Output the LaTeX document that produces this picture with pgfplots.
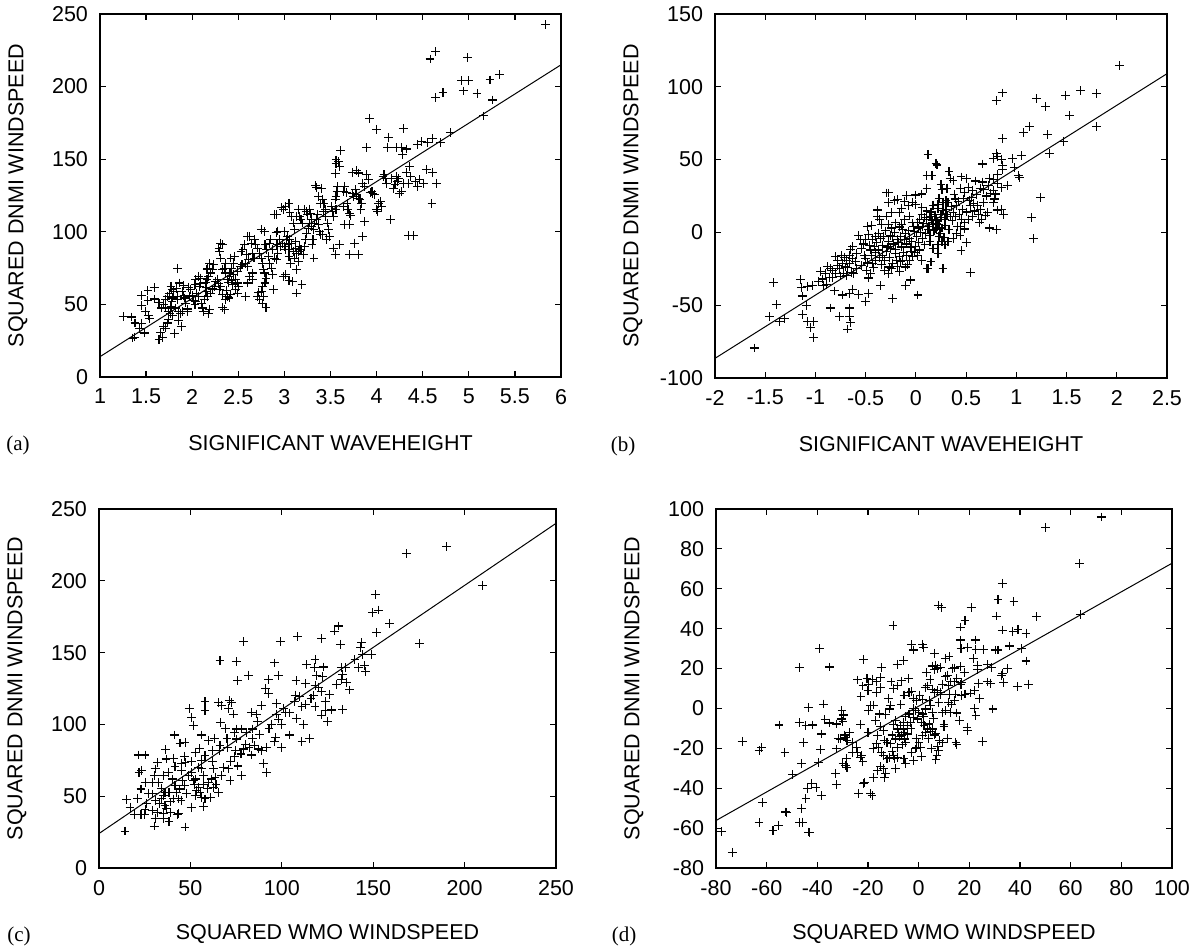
\documentclass[border=0pt]{standalone}
\usepackage{fontspec}
\setmainfont{Liberation Sans}
\newfontfamily\seriffont{Liberation Serif}
\usepackage{pgfplots}
\pgfplotsset{compat=1.18}

\pgfplotsset{
  panel/.style={
    scale only axis,
    anchor=south west,
    axis line style={line width=0.8bp},
    tick style={line width=0.6bp, black},
    tick align=inside,
    major tick length=2.8bp,
    /pgf/number format/assume math mode=true,
    ticklabel style={font=\fontsize{10.75bp}{12bp}\selectfont},
    xticklabel style={yshift=-2.5bp},
    yticklabel style={xshift=-2.5bp},
    clip=true,
  },
  dots/.style={only marks, mark=+, mark size=2.2bp, mark options={line width=0.55bp, black}, black},
  fit/.style={black, line width=0.5bp, no marks},
}
\newcommand{\lab}{\fontsize{10.75bp}{12bp}\selectfont}
\newcommand{\tag}{\seriffont\fontsize{10.5bp}{12bp}\selectfont}

\begin{document}
\begin{tikzpicture}
\useasboundingbox (0,0) rectangle (599bp,473.5bp);

% ---------------- (a)
\begin{axis}[panel, name=A, at={(50bp,285bp)}, width=230.5bp, height=181.5bp,
  xmin=1, xmax=6, ymin=0, ymax=250,
  xtick={1,1.5,...,6}, ytick={0,50,...,250}]
\addplot[dots] coordinates {
(1.25,41.7)(1.34,41.3)(1.38,37.2)(1.45,36.7)(1.37,27.5)(1.35,26.8)(1.48,30.3)(1.43,33.3)(1.45,56)(1.52,59.4)(1.59,61.7)(1.45,49)(1.49,45.2)(1.53,42.2)(1.54,40)(1.52,52.5)(1.59,53.7)(1.64,51)(1.64,26)(1.66,30.7)(1.68,27.3)(1.69,34.9)(1.71,33.7)(1.74,39.4)(1.76,43.6)(1.77,48.6)(1.78,52)(1.82,47.5)(1.84,53.2)(1.85,39)(1.88,34.9)(1.81,29.8)(1.79,42.2)(1.73,37.2)(1.74,45.2)(1.71,47.5)(1.69,49.8)(1.67,47.5)(1.71,53.2)(1.73,55.5)(1.75,57.8)(1.78,60.1)(1.8,58.9)(1.83,61.2)(1.84,74.8)(1.86,64.7)(1.89,58.9)(1.91,56)(1.92,54.4)(1.93,50.9)(1.95,46.8)(1.96,61.9)(1.98,60.1)(1.91,62.8)(1.84,55.5)(1.85,45.2)(1.77,62.4)(1.79,54.4)(1.87,44)(1.89,45.2)(1.95,45.2)(1.97,55.5)
(2.0,56)(2.01,52.8)(2.03,49.8)(2.04,52.1)(2.05,57.8)(2.07,55.5)(2.08,62.4)(2.1,50.9)(2.11,47.5)(2.12,45.2)(2.13,53.2)(2.15,58.9)(2.15,61.9)(2.14,65.1)(2.16,67.4)(2.18,69.3)(2.2,71.6)(2.22,73.9)(2.23,77.3)(2.19,78.4)(2.17,75)(2.16,73.9)(2.09,64.2)(2.07,69.3)(2.04,67)(2.03,63.5)(2.09,68.1)(2.17,55.5)(2.18,44)(2.19,46.3)(2.2,57.8)(2.22,60.6)(2.24,62.4)(2.25,65.8)(2.27,67.4)(2.29,64.2)(2.31,62.4)(2.3,60.1)(2.33,56.7)(2.33,47.9)(2.35,46.3)(2.36,53.2)(2.38,55.5)(2.4,54.4)(2.42,57.1)(2.37,59.4)(2.39,65.1)(2.4,69.3)(2.41,71.6)(2.43,75)(2.45,78.4)(2.46,83)(2.42,81.9)(2.36,78.4)(2.35,75)(2.33,73.9)(2.31,81.9)(2.29,88.8)(2.31,92.2)(2.33,91.1)(2.3,86.5)(2.36,71.6)(2.38,67.4)(2.47,67)(2.49,64.7)(2.5,62.4)(2.49,57.8)(2.47,60.1)(2.44,63.5)(2.43,66.5)(2.45,70.4)(2.49,72.7)(2.52,76.1)(2.54,77.3)(2.53,86.5)(2.55,87.6)(2.58,78.4)(2.6,76.1)(2.61,80.7)(2.59,84.2)(2.57,91.1)(2.6,96.8)(2.62,96.8)(2.64,92.2)(2.65,85.3)(2.67,81.9)(2.65,71.6)(2.65,67)(2.62,69.3)(2.6,64.7)(2.58,55.5)(2.68,94.5)(2.69,91.1)(2.71,88.8)(2.73,85.3)(2.75,81.9)(2.76,78.4)(2.77,73.9)(2.78,71.6)(2.8,68.1)(2.79,64.7)(2.76,62.4)(2.75,58.9)(2.72,58.3)(2.71,55.5)(2.73,53.2)(2.76,50.9)(2.77,55.5)(2.8,47.9)(2.75,101.4)(2.78,100)(2.79,91.1)(2.81,87.6)(2.83,83)(2.84,78.4)(2.86,75)(2.87,70.4)(2.88,60.1)(2.84,92.2)(2.85,94.5)(2.87,87.6)(2.89,81.9)(2.91,80.7)(2.93,85.3)(2.92,91.1)(2.91,99.5)(2.93,100.5)(2.95,94.5)(2.96,89.9)(2.98,92.2)(3.0,89.9)(3.01,87.6)(3.02,94.5)(3.03,96.8)(3.04,91.1)(3.05,87.6)(3.05,83)(3.07,78.4)(2.99,69.3)(3.01,70.4)(3.05,66.5)(3.09,65.8)(3.13,57.8)(3.13,73.9)(3.15,79.6)(3.11,81.9)(3.1,86.5)(3.12,88.8)(3.08,92.2)(3.06,94.5)(3.0,100.2)(2.91,111.7)(2.89,111.7)(2.97,116.5)(2.99,115.1)(3.01,117.4)(3.05,119.7)(3.06,113.3)(3.08,110.6)(3.1,106)(3.11,101.4)(3.12,93.3)(3.13,85.3)(3.15,86.5)(3.16,89.9)(3.18,87.6)(3.19,63.5)(3.21,84.2)(3.22,89.9)(3.23,94.5)(3.24,99.1)(3.26,102.5)(3.27,106)(3.29,108.3)(3.3,91.1)(3.31,94.5)(3.32,81.9)(3.2,106)(3.18,108.3)(3.16,110.6)(3.15,115.1)(3.13,110.6)(3.22,115.1)(3.24,114)(3.25,111.7)(3.27,115.6)(3.28,112.8)(3.29,103.7)(3.32,101.4)(3.33,106)(3.35,108.3)(3.36,111.7)(3.37,104.8)(3.38,100.2)(3.39,97.9)(3.41,97.9)(3.42,114)(3.41,122)(3.4,130)(3.34,131.7)(3.35,130.5)(3.37,124.3)(3.39,119.7)(3.43,119.7)(3.45,115.1)(3.45,110.6)(3.47,106)(3.48,101.4)(3.49,96.8)(3.46,94.5)(3.51,117.4)(3.52,114)(3.53,110.6)(3.56,115.1)(3.55,122)(3.56,124.3)(3.57,127.8)(3.58,131.2)(3.55,140.4)(3.56,147.2)(3.59,148.4)(3.6,145)(3.61,156.2)(3.64,117.4)(3.64,127.8)(3.65,131.2)(3.67,127)(3.68,119.7)(3.69,115.1)(3.71,112.8)(3.72,111)(3.74,126.6)(3.75,124.3)(3.77,128.9)(3.78,125.5)(3.8,123.2)(3.82,122)(3.83,115.6)(3.84,119.7)(3.85,133.5)(3.87,131.2)(3.89,139.2)(3.91,135.8)(3.93,127)(3.95,127.8)(3.96,126.6)(3.98,125.5)(4.0,115.1)(4.01,114)(4.02,119.7)(4.04,120.9)(4.05,117.4)(4.07,138.1)(4.08,139.2)(4.1,136.9)(4.11,133.5)(4.15,108.3)(4.16,136.9)(4.18,130)(4.2,132.3)(4.22,138.1)(4.23,134.6)(4.24,136.9)(4.25,126.6)(4.27,127.8)(4.29,133.5)(4.32,140.8)(4.35,133.5)(4.36,145)(4.37,138.1)(4.42,134.6)(4.44,131.2)(4.47,135.8)(4.51,133.5)(4.54,142.7)(4.61,141)(4.65,133.5)(4.6,119.7)(4.35,97.2)(4.4,97.2)(3.55,84.2)(3.6,91.1)(3.71,84.2)(3.76,92.2)(3.8,84.2)(3.85,96.8)(3.87,107.1)(3.53,88.8)(3.92,178.2)(4.0,170.6)(3.89,157.8)(4.13,165.1)(4.12,157.8)(4.22,158)(4.29,171.1)(4.27,158)(4.32,157)(4.28,153)(4.55,161.7)(4.49,162.2)(4.44,160.3)(4.61,164.2)(4.69,161.5)(4.8,168.3)(5.16,179.8)(5.26,190.8)(5.33,208.3)(5.23,204.6)(5.09,195.2)(4.72,195.9)(4.64,192.4)(4.94,197)(5.0,204.1)(4.92,204.1)(4.99,220)(4.64,224.1)(4.58,219)(5.83,242.7)(3.71,105)(3.65,104.8)(3.74,141)(3.78,142)(3.8,140.5)(3.56,149.5)
};
\addplot[fit] coordinates {(1,14) (6,215)};
\end{axis}
\node[rotate=90, font=\lab] at ([xshift=-41bp]A.west) {SQUARED DNMI WINDSPEED};
\node[font=\lab] at ([yshift=-33bp]A.south) {SIGNIFICANT WAVEHEIGHT};
\node[font=\tag] at ([xshift=-41bp, yshift=-34bp]A.south west) {(a)};

% ---------------- (b)
\begin{axis}[panel, name=B, at={(357.5bp,284.5bp)}, width=226bp, height=182bp,
  xmin=-2, xmax=2.5, ymin=-100, ymax=150,
  xtick={-2,-1.5,...,2.5}, ytick={-100,-50,...,150}]
\addplot[dots] coordinates {
(2.03,114.5)(0.8,90.7)(0.86,95.8)(1.2,91.8)(1.29,86.4)(1.49,94.2)(1.64,97.2)(1.8,95.3)(1.53,80.1)(1.8,72.7)(1.13,72.7)(1.07,68.7)(1.31,67.3)(0.86,64.5)(1.47,62.6)(1.33,54.4)(1.05,52.8)(0.98,44.4)(1.02,38.8)(1.03,37.4)(0.96,50.5)(0.91,32.2)(1.24,24.1)(1.15,10)(1.17,-4.4)(0.8,1.9)(0.73,3)(0.54,-27.3)(0.5,-7)(0.45,-12.6)(0.44,-2.1)(0.48,2.3)
(0.8,54.4)(0.77,50.5)(0.85,50)(0.86,46)(0.86,43)(0.81,52.1)(0.66,47)(0.81,39.7)(0.73,36.9)(0.81,33.4)(0.85,31)(0.77,28.7)(0.79,26.4)(0.78,22.9)(0.77,20.6)(0.85,15.9)(0.87,12.4)(0.81,15.4)(0.71,13.6)(0.69,11.7)(0.65,8.9)(0.63,6.5)(0.64,15.9)(0.67,20.6)(0.67,29.2)(0.64,29.9)(0.66,34.6)(0.59,35.3)(0.56,28.7)(0.55,24.1)(0.52,31.1)(0.48,27.6)(0.44,30.4)(0.45,38.1)(0.33,41.6)(0.26,29.2)(0.23,23.4)(0.2,47.4)(0.21,46.3)(0.12,53.7)(0.16,39.3)(0.11,39.3)(0.11,30.4)(0.06,26.4)(0,25.7)(-0.03,20.6)(-0.09,25.2)(-0.11,21)(-0.18,22.4)(-0.21,21.7)(-0.27,20.6)(-0.29,27.1)(-0.24,13.6)(-0.16,13.6)(-0.14,16.4)(-0.07,18.2)(0,19.4)(0.06,17.1)(0.11,14.7)(0.17,18.7)(0.22,16.4)(0.27,20.6)(0.32,20.6)(0.39,22.9)(0.4,18.2)(0.37,13.6)(0.34,11.2)(0.3,15.9)(0.25,12.4)(0.2,8.9)(0.14,11.2)(0.09,10)(0.04,8.9)(-0.03,6.5)(-0.06,11.2)(-0.11,8.9)(-0.14,5.4)(-0.16,3.7)(-0.2,6.5)(-0.24,3)(-0.27,5.4)(-0.34,5.4)(-0.38,10.7)(-0.29,11.2)(-0.36,8.9)(-0.44,4.9)(-0.48,4.2)(-0.57,-2.3)(-0.47,-1.6)(-0.5,-5.1)(-0.43,-5.1)(-0.4,-2.8)(-0.37,-0.5)(-0.32,-2.8)(-0.27,-6.3)(-0.23,-2.8)(-0.18,-5.1)(-0.15,-2.8)(-0.1,-0.5)(-0.06,-4)(-0.01,0.7)(0.03,3)(0.07,4.2)(0.12,1.9)(0.17,5.4)(0.2,2.3)(0.24,-0.5)(0.28,-3.3)(0.26,-6.3)(0.22,-8.6)(0.17,-11)(0.14,-6.3)(0.09,-8.6)(0.04,-12.1)(0,-9.8)(-0.04,-13.3)(-0.09,-15.7)(-0.13,-19.2)(-0.16,-16.8)(-0.2,-14.5)(-0.25,-11)(-0.29,-13.3)(-0.33,-15.7)(-0.37,-12.1)(-0.41,-9.8)(-0.45,-12.1)(-0.51,-15.7)(-0.54,-11)(-0.59,-14.5)(-0.63,-18)(-0.66,-21.5)(-0.7,-23.8)(-0.73,-21.5)(-0.76,-25)(-0.8,-28.5)(-0.83,-26.2)(-0.88,-23.4)(-0.9,-28.5)(-0.86,-30.8)(-0.8,-16.8)(-0.78,-22.7)(-0.69,-29.7)(-0.64,-27.3)(-0.59,-25)(-0.54,-22.7)(-0.49,-26.2)(-0.45,-28.5)(-0.47,-31.3)(-0.43,-21.5)(-0.4,-19.2)(-0.34,-22)(-0.31,-26.2)(-0.27,-28.5)(-0.26,-23.8)(-0.23,-21.5)(-0.18,-23.4)(-0.15,-20.3)(-0.1,-23.8)(-0.06,-19.2)(-0.03,-16.8)(0.02,-15.7)(0.06,-19.2)(0.11,-25)(0.27,-25)(0.15,-20.3)(0.22,-14.5)(0.29,-8.6)(0.32,-6.3)(0.37,-4)(0.4,-0.5)(0.44,4.2)(0.48,6.5)(0.52,8.9)(0.56,10.7)(0.58,14.7)(0.61,18.2)(0.54,18.2)(0.46,15.9)(0.43,12.4)(0.29,8.9)(0.23,5.4)
(-1.61,-79.4)(-1.46,-57.9)(-1.39,-49.5)(-1.42,-34.6)(-1.36,-61.2)(-1.31,-59.3)(-1.15,-32.5)(-1.14,-37.9)(-1.13,-43.7)(-1.13,-56.5)(-1.09,-50)(-1.08,-37.4)(-1.08,-61.2)(-1.05,-65.4)(-1.02,-72.4)(-1.02,-61.2)(-1.03,-36.7)(-0.97,-33.6)(-0.92,-36.7)(-0.89,-36)(-0.85,-51.9)(-0.81,-40.2)(-0.76,-57.7)(-0.73,-43)(-0.68,-66.4)(-0.66,-57.7)(-0.65,-61.7)(-0.66,-51.9)(-0.66,-42.1)(-0.63,-39)(-0.57,-42.5)(-0.5,-47.2)(-0.47,-42.1)(-0.35,-36.7)(-0.23,-45.3)(-0.1,-36.7)(-0.05,-32.7)(0.02,-43)(0.12,-25)(-0.38,15.4)(-0.27,27.1)(-0.83,-30.8)(-0.78,-19.6)(-0.74,-15.7)(-0.69,-19.2)(-0.66,-15.7)(-0.63,-9.8)(0.25,32.7)(0.31,30.4)(0.34,36.9)(0.37,35.7)(0.5,36.9)(0.64,30.4)(0.72,32.2)(0.77,36.4)
(-0.55,-5)(-0.52,-8)(-0.5,-18)(-0.48,-21)(-0.46,-9)(-0.44,-16)(-0.42,-24)(-0.4,-14)(-0.39,-7)(-0.36,-17)(-0.35,-4)(-0.33,-9)(-0.31,-19)(-0.3,1)(-0.28,-10)(-0.26,-17)(-0.25,-2)(-0.24,-25)(-0.22,-8)(-0.21,0)(-0.2,-12)(-0.19,-19)(-0.17,-7)(-0.16,-27)(-0.14,-10)(-0.13,2)(-0.12,-14)(-0.11,-5)(-0.09,-8)(-0.08,-22)(-0.07,1)(-0.05,-10)(-0.04,-6)(-0.02,4)(-0.01,-14)(0.01,-3)(0.02,7)(0.03,-7)(0.05,0)(0.06,12)(0.07,-4)(0.08,6)(0.1,-1)(0.11,9)(0.13,4)(0.14,-2)(0.15,14)(0.16,8)(0.18,1)(0.19,12)(0.21,6)(0.22,19)(0.23,-3)(0.25,10)(0.26,3)(0.27,15)(0.29,5)(0.3,22)(0.31,12)(0.33,2)(0.35,18)(0.36,8)(0.38,26)(0.39,11)(0.41,4)(0.42,21)(0.45,9)(0.47,23)(0.5,14)(0.53,22)(0.57,20)(0.6,26)(0.62,12)(0.7,25)(0.74,27)(-0.6,-20)(-0.62,-28)(-0.65,-12)(-0.68,-24)(-0.71,-17)(-0.75,-30)(-0.72,-28)(-0.85,-25)(-0.93,-32)(-0.95,-27)
};
\addplot[fit] coordinates {(-2,-86.5) (2.5,109)};
\end{axis}
\node[rotate=90, font=\lab] at ([xshift=-41bp]B.west) {SQUARED DNMI WINDSPEED};
\node[font=\lab] at ([yshift=-33bp]B.south) {SIGNIFICANT WAVEHEIGHT};
\node[font=\tag] at ([xshift=-46bp, yshift=-34bp]B.south west) {(b)};

% ---------------- (c)
\begin{axis}[panel, name=C, at={(49.5bp,39.5bp)}, width=228.5bp, height=179.5bp,
  xmin=0, xmax=250, ymin=0, ymax=250,
  xtick={0,50,...,250}, ytick={0,50,...,250}]
\addplot[dots] coordinates {
(190.1,223.8)(168.1,218.8)(210,197)(151.1,190.5)(149.6,177.8)(152.9,179.6)(158.9,170.4)(152,163.9)(175.2,156.5)(131,168.5)(128.8,165)(132,155.8)(108.8,161.1)(121.9,159.7)(99.1,157.6)(79.2,157.6)(66.2,144.7)(75,143.8)(96,142.8)(81.9,134.3)(75.9,130.3)(98,133.8)(92.7,131.5)(107.8,130.3)(113.1,128.7)(113.7,141.7)(118.2,145.4)(117.9,139.6)(122.8,140)(119.1,133.8)(122.4,133.3)(118.2,126.9)(121.9,122.9)(117.3,119.9)(107.3,120.4)(109.5,119.4)(107,115.7)(111,112.5)(113.1,114.1)(118.2,112.5)(123.7,115.7)(127,110)(123.7,109.5)(121.9,106.5)(125.2,102)(133.2,110.6)(134.7,139.6)(132.5,139.6)(133.2,134.5)(132.5,131.5)(135.2,129.2)(142,139.6)(143.8,156.9)(143.2,153.5)(144.2,148.8)(145.2,141.2)(146,136.8)(148.9,148.8)(100.9,111.1)(101.8,108.3)(98.2,103.7)(94.5,100.2)(97.3,107.2)(91.2,125)(92.7,121.5)(97.3,114.8)(89.1,113)(86.3,107.2)(83.6,108.3)(86.9,101.9)(84.1,96.8)(80.8,94.4)(78.1,96.8)(75,96.8)(74.1,94.4)(75.4,89.8)(69,97.2)(66.4,101.4)(65.3,115.3)(67.2,113.4)(72.6,115.3)(71.2,116.4)(73.5,107.2)(70.8,111.1)(58,115.7)(58,109.5)(49.3,111.1)(50.7,104.9)(51.6,99.5)(56.2,92.6)(59.9,88.7)(63.1,90.3)(62,81.7)(66.2,85.6)(65.7,81.7)(70.4,84)(74.5,81.7)(74.1,77.8)(77.7,79.4)(79,82.9)(82.1,84)(83.6,78.7)(85,85.2)(87.2,82.9)(88.7,81.7)(91.8,84)(96.4,91)(100,84)(104.2,92.6)(111,88)(115,90.3)(89.9,72.5)(91.8,66.7)(78.1,64.4)(71.7,60.9)(70.8,69)(67.2,64.4)(65.3,52.3)(63.5,63.2)(62.6,69)(58,78.2)(56.2,74.8)(52.6,80.6)(50.7,74.1)(47.1,73.6)(46.7,77.8)(41.2,92.6)(44.3,87)(47.1,87.5)(36.5,82.4)(36.7,75.9)(41,76.4)(41.6,70.8)(38,66.7)(32.1,73.6)(30.7,69)(35.2,64.4)(30.3,64.4)(29.2,59.7)(25.2,59.7)(21.9,66.7)(23.4,67.8)(21.5,78.7)(25.2,78.7)(36.1,52.8)(34.3,55.1)(35.2,50.5)(34.3,48.1)(36.1,43.5)(37,41.2)(35.2,37.7)(38.9,38.9)(42.5,52.8)(43.4,48.1)(44.9,47)(43.1,37)(41.6,57.4)(45.6,60.9)(46.7,57.4)(48.9,64.4)(50.7,66.7)(51.6,60.9)(52.6,50.5)(53.5,53.9)(54.4,56.3)(55.3,52.8)(56.2,49.3)(57.1,43.1)(58,48.1)(59.9,59.7)(61.7,62)(57.1,64.4)(62.6,56.3)(59.5,55.6)(54.4,70.1)(56.2,69)(45.3,68.1)(50.4,42.4)(47.1,28.5)(43.4,37.7)(38.3,32.4)(35.2,34.3)(30.7,34.3)(30.3,29.2)(32.1,38.9)(29.2,40)(24.8,37)(25.2,40.7)(23,37)(19.3,37)(17,42.4)(15.1,47.5)(14.2,25.7)(21.2,48.6)(29.2,51.6)(32.5,59.7)(38.3,52.8)(40.7,48.1)
(27,52)(33,45)(39,46)(44,55)(48,52)(53,62)(57,58)(61,49)(64,58)(68,70)(72,74)(76,71)(80,86)(84,90)(88,93)(93,97)(96,88)(100,100)(104,108)(108,104)(112,100)(116,118)(120,126)(126,121)(130,128)(137,124)(140,145)(45,73)(40,62)(26,45)(23,55)(31,47)(52,58)(62,74)(70,90)(55,83)
};
\addplot[fit] coordinates {(0,24) (250,240)};
\end{axis}
\node[rotate=90, font=\lab] at ([xshift=-41bp]C.west) {SQUARED DNMI WINDSPEED};
\node[font=\lab] at ([yshift=-33bp]C.south) {SQUARED WMO WINDSPEED};
\node[font=\tag] at ([xshift=-40bp, yshift=-34bp]C.south west) {(c)};

% ---------------- (d)
\begin{axis}[panel, name=D, at={(358bp,39.5bp)}, width=228bp, height=179.5bp,
  xmin=-80, xmax=100, ymin=-80, ymax=100,
  xtick={-80,-60,...,100}, ytick={-80,-60,...,100}]
\addplot[dots] coordinates {
(72.1,96)(50.1,90.8)(63.6,72.7)(63.8,47.2)(33,62.7)(31.3,54.7)(37.6,53.5)(20.7,50.5)(7.7,51.7)(9,50.5)(18.3,44.2)(16.4,40.8)(30.6,46.3)(46.5,46)(33,39.3)(37.2,38.7)(39.2,39.7)(42.4,37.7)(40.7,30)(35.9,31.3)(30.3,29.3)(31.3,29.3)(25.7,29.7)(22.3,34.3)(19.3,30.5)(16.7,30)(16.4,34.3)(22.6,29.7)(21.7,25)(23.3,21.7)(23.1,19.3)(28.6,20.5)(16.4,21)(14,20.3)(13.4,20.2)(11.4,16.7)(10.7,16)(10.5,25)(6.4,27.7)(1.5,32.2)(-2.1,29.3)(-2.9,32)(2,30.5)(6.8,21.7)(7.4,20)(8.7,20.5)(6.1,19.7)(5.4,21.3)(-10.1,41.7)(-8.5,22.2)(-14.7,20.5)(-15.1,15.5)(-21.7,24.7)(-18.1,14.7)(-20.4,15)(-19.7,12.2)(-16.7,13.3)(-15.1,10.5)(-16.7,8)(-22.8,5.8)(-22,11.3)(-24.1,14.3)(-20,8.8)(-19.1,1.3)(-17.7,1.7)(-19.7,-1.2)(-15.4,-2.8)(-10.9,13.3)(-6.9,13.8)(-9.8,10)(-8.5,11.3)(-11.1,1.3)(-11.4,-0.3)(-5.8,6.7)(-3.8,8)(-2.9,8.3)(-1.9,5)(-0.8,3.8)(0.5,6.7)(1.5,4.7)(2.8,10.5)(3.4,11.3)(4.5,14.7)(5.4,9.7)(6.4,8)(7.4,8.8)(8.5,8)(8.7,7)(9.4,12.2)(11.7,11.3)(12.5,13.3)(14,13.3)(15.1,15)(16.7,12)(17,13)(14.7,7.2)(17,6.3)(18.3,7.2)(20.4,7.7)(22,8.8)(11.7,3)(13,2.2)(14,3.8)(9.4,-2)(10.7,-1.2)(12.7,-2)(15.1,-2.3)(22,0)(22.6,-3.7)(19.1,-9.5)(19.3,-11.2)(14.7,-17)(15.1,-18.2)(11.4,-15)(9.4,-17.3)(8.1,-16.2)(7.4,-19)(7.7,-21.2)(7.2,-23.7)(6.8,-25.7)(25.3,-16.7)(29.3,-0.3)(33,17.5)(33.6,13)(38.9,11)(43.4,12.2)(42.4,23.8)(40.5,30)(35.2,20)(32.6,16.7)(28.3,12.7)(27.3,13.3)(23.6,12.7)
(4.1,3.8)(4.8,1.3)(5.4,-2)(2.8,-0.3)(1.5,-2.8)(0.1,-2)(-1.2,-1.2)(-2.1,0)(-3.8,-2.8)(-5.2,-4)(-6.1,-7)(-7.2,-8.7)(-8.5,-10.3)(-9.1,-6.2)(-7.8,-12)(-6.9,-13.3)(-5.8,-12)(-4.5,-12.8)(-5.6,-15.3)(-5.2,-17)(-6.5,-18.3)(-8.5,-19.5)(-9.8,-23.7)(-9.5,-25.3)(-8.5,-24.5)(-5.8,-25.3)(-5.2,-27.8)(-1.9,-26.2)(-1.2,-20.3)(-0.8,-19.5)(0.8,-19.5)(0.1,-17)(1.5,-13.7)(2.8,-12)(3.4,-10.3)(4.5,-11.7)(5.4,-10.3)(6.1,-13.3)(6.8,-12.5)(4.1,-7.8)(2.1,-8.7)(1.1,-7)(-0.5,-5.3)(-1.9,-4.5)(-3.2,-7)(-4.5,-8.7)(-6.1,-10.3)(-7.4,-14)(-9.1,-15.3)(-10.5,-13.3)(-11.1,-17.8)(-12.5,-17)(-13.5,-16.2)(-14,-11.2)(-15.1,-9)(-16.2,-13.7)(-16.7,-17.8)(-15.8,-19.5)(-14.7,-22)(-13.8,-23.7)(-12.5,-25.3)(-11.4,-24.5)(-10.5,-21.7)(-13.1,-32.8)(-13.5,-34.5)(-14,-30.3)(-15.1,-29.2)(-16.2,-31.2)(-17.7,-34.5)(-19.1,-42.8)(-18.4,-43.7)(-21.5,-37)(-21.7,-37.8)(-23.7,-42.8)(-22,-26.7)(-22.4,-23.7)(-23.1,-24.5)(-24.1,-22)(-24.6,-19.5)(-26,-17)(-28.3,-16.2)(-27.3,-12)(-29,-14.5)(-29.4,-13.3)(-28.6,-25)(-28.3,-29.5)(-29,-28.7)(-29.9,-27.5)(-31,-15.3)(-31.7,-15)(-32.3,-20.3)(-32.8,-32.8)(-32.3,-38.3)(-30.3,-1.2)(-29.7,-3.3)(-29.9,-6.7)(-30.6,-5.3)(-32.3,-7.8)(-35.2,-7.3)(-37,-5.7)(-37.6,2.2)(-38.3,-12.8)(-38.7,-20.7)(-39.5,-27.3)(-42.3,-37.8)(-40.5,-39.5)(-38.3,-43.7)(-44,-40.3)(-44.5,-45.3)(-46.2,-50.3)(-45.8,-57)(-43.6,-62)(-43.2,-62.3)(-46.9,-57.3)(-52.2,-52)(-55.4,-58.7)(-57.5,-61.2)(-63,-57.3)(-61.5,-47.3)(-55.1,-8.3)(-52.8,-22)(-49.8,-33.3)(-46.2,-27.5)(-47.2,-7)(-45.6,-17)(-43.6,0.5)(-44.5,-8.7)(-41.9,-8.3)(-39.2,30)(-35.2,20.8)(-47.2,20.5)(-69.7,-16.5)(-63,-21.2)(-62,-19.5)(-77.7,-61.8)(-73.6,-72.1)(-52.5,-51.9)
(-3,-10)(-1,-15)(2,-4)(4,-15)(6,-5)(8,3)(10,-8)(12,7)(3,18)(-4,15)(-7,2)(-10,-8)(-13,-3)(-17,-6)(-20,-12)(-23,-8)(-26,-22)(-9,-30)(-3,-22)(1,-24)(5,-20)(10,-9)(16,-6)(18,18)(24,5)(27,22)(12,26)(-6,24)(-12,5)(-18,-20)
};
\addplot[fit] coordinates {(-80,-56.2) (100,72.8)};
\end{axis}
\node[rotate=90, font=\lab] at ([xshift=-41bp]D.west) {SQUARED DNMI WINDSPEED};
\node[font=\lab] at ([yshift=-33bp]D.south) {SQUARED WMO WINDSPEED};
\node[font=\tag] at ([xshift=-46bp, yshift=-34bp]D.south west) {(d)};
\end{tikzpicture}
\end{document}
